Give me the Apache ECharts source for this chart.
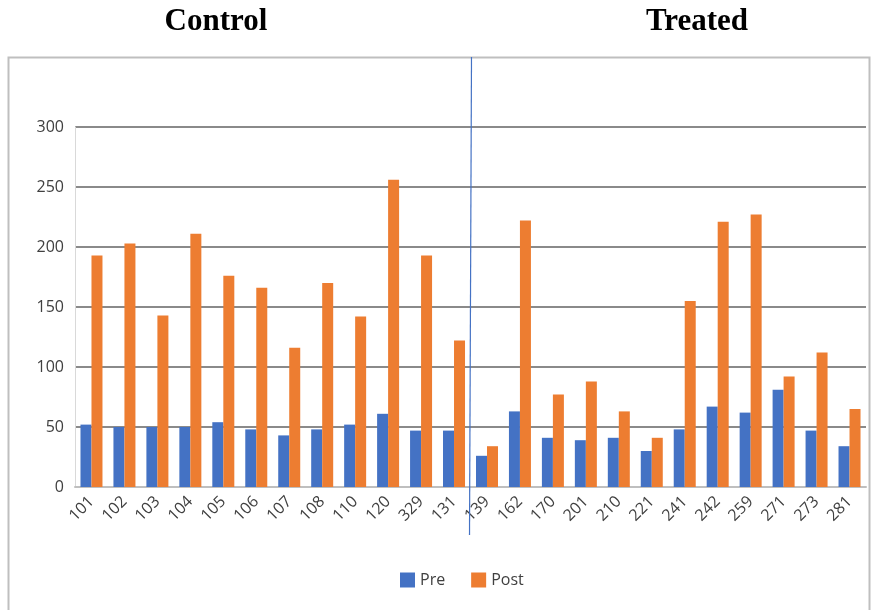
<!DOCTYPE html>
<html>
<head>
<meta charset="utf-8">
<script src="https://cdn.jsdelivr.net/npm/echarts@6/dist/echarts.min.js"></script>
<style>
  html, body { margin: 0; padding: 0; background: #fff; }
  #chart { width: 873px; height: 610px; }
</style>
</head>
<body>
<div id="chart"></div>
<script>
// Subject IDs: first 12 are the control group, the rest are treated
const subjects = ['101','102','103','104','105','106','107','108','110','120','329','131',
                  '139','162','170','201','210','221','241','242','259','271','273','281'];
const preValues  = [52, 50, 50, 50, 54, 48, 43, 48, 52, 61, 47, 47,
                    26, 63, 41, 39, 41, 30, 48, 67, 62, 81, 47, 34];
const postValues = [193, 203, 143, 211, 176, 166, 116, 170, 142, 256, 193, 122,
                    34, 222, 77, 88, 63, 41, 155, 221, 227, 92, 112, 65];
const yTicks = [0, 50, 100, 150, 200, 250, 300];
const groupTitles = ['Control', 'Treated'];
const controlCount = 12;

const chart = echarts.init(document.getElementById('chart'));
const labelFont = '"Open Sans", "Noto Sans", sans-serif';

chart.setOption({
  animation: false,
  backgroundColor: '#fff',
  grid: { left: 75, right: 7, top: 127, bottom: 123 },
  legend: {
    data: ['Pre', 'Post'],
    left: 395, top: 567,
    itemWidth: 15, itemHeight: 15, itemGap: 26,
    icon: 'rect',
    textStyle: { fontFamily: labelFont, fontSize: 16, color: '#404040' }
  },
  xAxis: {
    type: 'category',
    data: subjects,
    axisLine: { show: true, lineStyle: { color: '#bfbfbf', width: 2 } },
    axisTick: { show: false },
    axisLabel: {
      interval: 0, rotate: 45, margin: 12,
      fontFamily: labelFont, fontSize: 16, color: '#404040'
    }
  },
  yAxis: {
    type: 'value',
    min: yTicks[0], max: yTicks[yTicks.length - 1], interval: yTicks[1] - yTicks[0],
    axisLine: { show: true, lineStyle: { color: '#d9d9d9', width: 1 } },
    axisTick: { show: false },
    axisLabel: { margin: 11, fontFamily: labelFont, fontSize: 16, color: '#404040' },
    splitLine: { lineStyle: { color: '#8a8a8a', width: 2 } }
  },
  series: [
    {
      name: 'Pre', type: 'bar', data: preValues,
      itemStyle: { color: '#4472C4' },
      barWidth: 11, barGap: '0%'
    },
    {
      name: 'Post', type: 'bar', data: postValues,
      itemStyle: { color: '#ED7D31' },
      barWidth: 11, barGap: '0%'
    }
  ]
});

// Group divider and headings, positioned from the category axis
const lastCtrl = chart.convertToPixel({ xAxisIndex: 0 }, subjects[controlCount - 1]);
const firstTrt = chart.convertToPixel({ xAxisIndex: 0 }, subjects[controlCount]);
const divX = (lastCtrl + firstTrt) / 2;

chart.setOption({
  graphic: [
    {
      type: 'rect', silent: true, z: -1,
      shape: { x: 8.5, y: 57.5, width: 861, height: 560 },
      style: { fill: 'none', stroke: '#bfbfbf', lineWidth: 2 }
    },
    {
      type: 'line', silent: true, z: 100,
      shape: { x1: divX + 1, y1: 57, x2: divX - 1, y2: 535 },
      style: { stroke: '#4472C4', lineWidth: 1.2 }
    },
    {
      type: 'text', silent: true,
      x: 216, y: 22,
      style: {
        text: groupTitles[0], align: 'center', verticalAlign: 'middle',
        font: 'bold 31px "Liberation Serif", "DejaVu Serif", serif', fill: '#000'
      }
    },
    {
      type: 'text', silent: true,
      x: 697, y: 22,
      style: {
        text: groupTitles[1], align: 'center', verticalAlign: 'middle',
        font: 'bold 31px "Liberation Serif", "DejaVu Serif", serif', fill: '#000'
      }
    }
  ]
});
</script>
</body>
</html>
